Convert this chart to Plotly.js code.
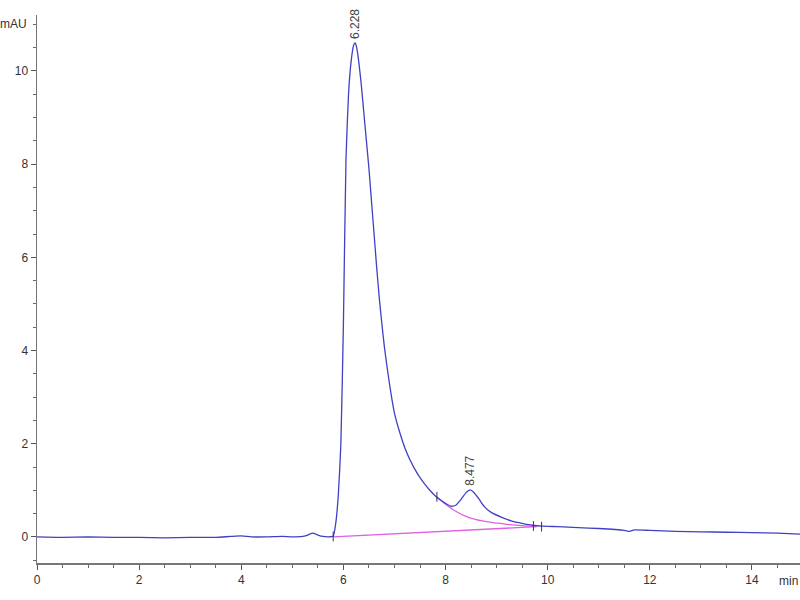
<!DOCTYPE html>
<html>
<head>
<meta charset="utf-8">
<script src="https://cdn.plot.ly/plotly-3.0.1.min.js"></script>
<style>html,body{margin:0;padding:0;background:#fff;}#chart{width:800px;height:600px;}</style>
</head>
<body>
<div id="chart"></div>
<script>
// Chromatogram signal (min, mAU)
var timeMin = [0,0.5,1,1.5,2,2.5,3,3.5,3.8,4.0,4.2,4.5,4.8,5.0,5.2,5.3,5.4,5.5,5.6,5.7,5.8,5.85,5.9,5.95,6.0,6.05,6.1,6.15,6.2,6.23,6.26,6.3,6.35,6.4,6.45,6.5,6.55,6.6,6.65,6.7,6.75,6.8,6.85,6.9,6.95,7.0,7.1,7.2,7.3,7.4,7.5,7.6,7.7,7.8,7.9,8.0,8.1,8.2,8.3,8.4,8.48,8.55,8.65,8.75,8.9,9.1,9.3,9.5,9.7,9.9,10.2,10.6,11.0,11.5,11.6,11.7,12.0,12.5,13.0,13.5,14.0,14.5,14.94];
var signal = [0.0,-0.01,0.0,-0.01,-0.01,-0.02,-0.01,-0.01,0.01,0.02,0.0,0.0,0.01,0.0,0.01,0.04,0.08,0.04,0.01,0.0,0.02,0.3,0.9,2.0,4.6,8.1,9.5,10.2,10.55,10.6,10.5,10.2,9.7,9.1,8.5,7.9,7.2,6.5,5.8,5.15,4.6,4.1,3.68,3.3,2.95,2.65,2.25,1.92,1.66,1.45,1.27,1.12,0.99,0.88,0.79,0.72,0.66,0.68,0.8,0.95,1.01,0.96,0.82,0.66,0.52,0.42,0.34,0.29,0.25,0.23,0.22,0.2,0.18,0.14,0.12,0.15,0.14,0.12,0.11,0.1,0.09,0.08,0.06];

// Integration baselines
var baseTime = [5.8, 9.78];
var baseValue = [0.0, 0.22];
var skimTime = [7.83,8.0,8.2,8.4,8.6,8.9,9.2,9.5,9.78];
var skimValue = [0.86,0.70,0.55,0.44,0.37,0.31,0.27,0.24,0.22];

// Peak event marks
var eventTime = [5.8, 7.83, 9.72, 9.88];
var eventValue = [0.01, 0.86, 0.235, 0.22];

// Peak labels
var peakTime = [6.228, 8.477];
var peakHeight = [10.6, 1.01];
var peakLabel = ["6.228", "8.477"];

var traces = [
  {x: baseTime, y: baseValue, mode: 'lines', line: {color: '#e060e0', width: 1.3}, hoverinfo: 'skip'},
  {x: skimTime, y: skimValue, mode: 'lines', line: {color: '#e060e0', width: 1.3, shape: 'spline'}, hoverinfo: 'skip'},
  {x: timeMin, y: signal, mode: 'lines', line: {color: '#4040c4', width: 1.3, shape: 'spline', smoothing: 0.5}},
  {x: eventTime, y: eventValue, mode: 'markers', marker: {symbol: 'line-ns', size: 7, line: {color: '#333355', width: 1}}, hoverinfo: 'skip'}
];

var annotations = peakTime.map(function(t, i) {
  return {x: t, y: peakHeight[i], xref: 'x', yref: 'y', text: peakLabel[i], showarrow: false,
    textangle: -90, yanchor: 'bottom', xanchor: 'center', yshift: 2,
    font: {family: 'Liberation Sans, Arial, sans-serif', size: 12, color: '#444'}};
});
annotations.push({x: 0, y: 1, xref: 'paper', yref: 'paper', text: 'mAU', showarrow: false,
  xanchor: 'right', yanchor: 'middle', xshift: -8, yshift: -9,
  font: {family: 'Liberation Sans, Arial, sans-serif', size: 12, color: '#333'}});
annotations.push({x: 1, y: 0, xref: 'paper', yref: 'paper', text: 'min', showarrow: false,
  xanchor: 'right', yanchor: 'top', yshift: -9,
  font: {family: 'Liberation Sans, Arial, sans-serif', size: 12, color: '#333'}});

var layout = {
  width: 800, height: 600,
  margin: {l: 37, r: 0, t: 15, b: 37},
  paper_bgcolor: '#fff', plot_bgcolor: '#fff',
  showlegend: false,
  font: {family: 'Liberation Sans, Arial, sans-serif', size: 12, color: '#333'},
  xaxis: {
    range: [0, 14.94], showgrid: false, zeroline: false,
    showline: true, linecolor: '#777', linewidth: 1.5,
    ticks: 'outside', ticklen: 5, tickcolor: '#555', dtick: 2, tick0: 0,
    tickfont: {size: 12, color: '#333'},
    minor: {dtick: 0.5, ticks: 'outside', ticklen: 3, tickcolor: '#666', showgrid: false}
  },
  yaxis: {
    range: [-0.56, 11.2], showgrid: false, zeroline: false,
    showline: true, linecolor: '#777', linewidth: 1.5,
    ticks: 'outside', ticklen: 5, tickcolor: '#555', dtick: 2, tick0: 0,
    tickfont: {size: 12, color: '#333'},
    minor: {dtick: 0.5, ticks: 'outside', ticklen: 3, tickcolor: '#666', showgrid: false}
  },
  annotations: annotations
};

Plotly.newPlot('chart', traces, layout, {displayModeBar: false, staticPlot: true});
</script>
</body>
</html>
